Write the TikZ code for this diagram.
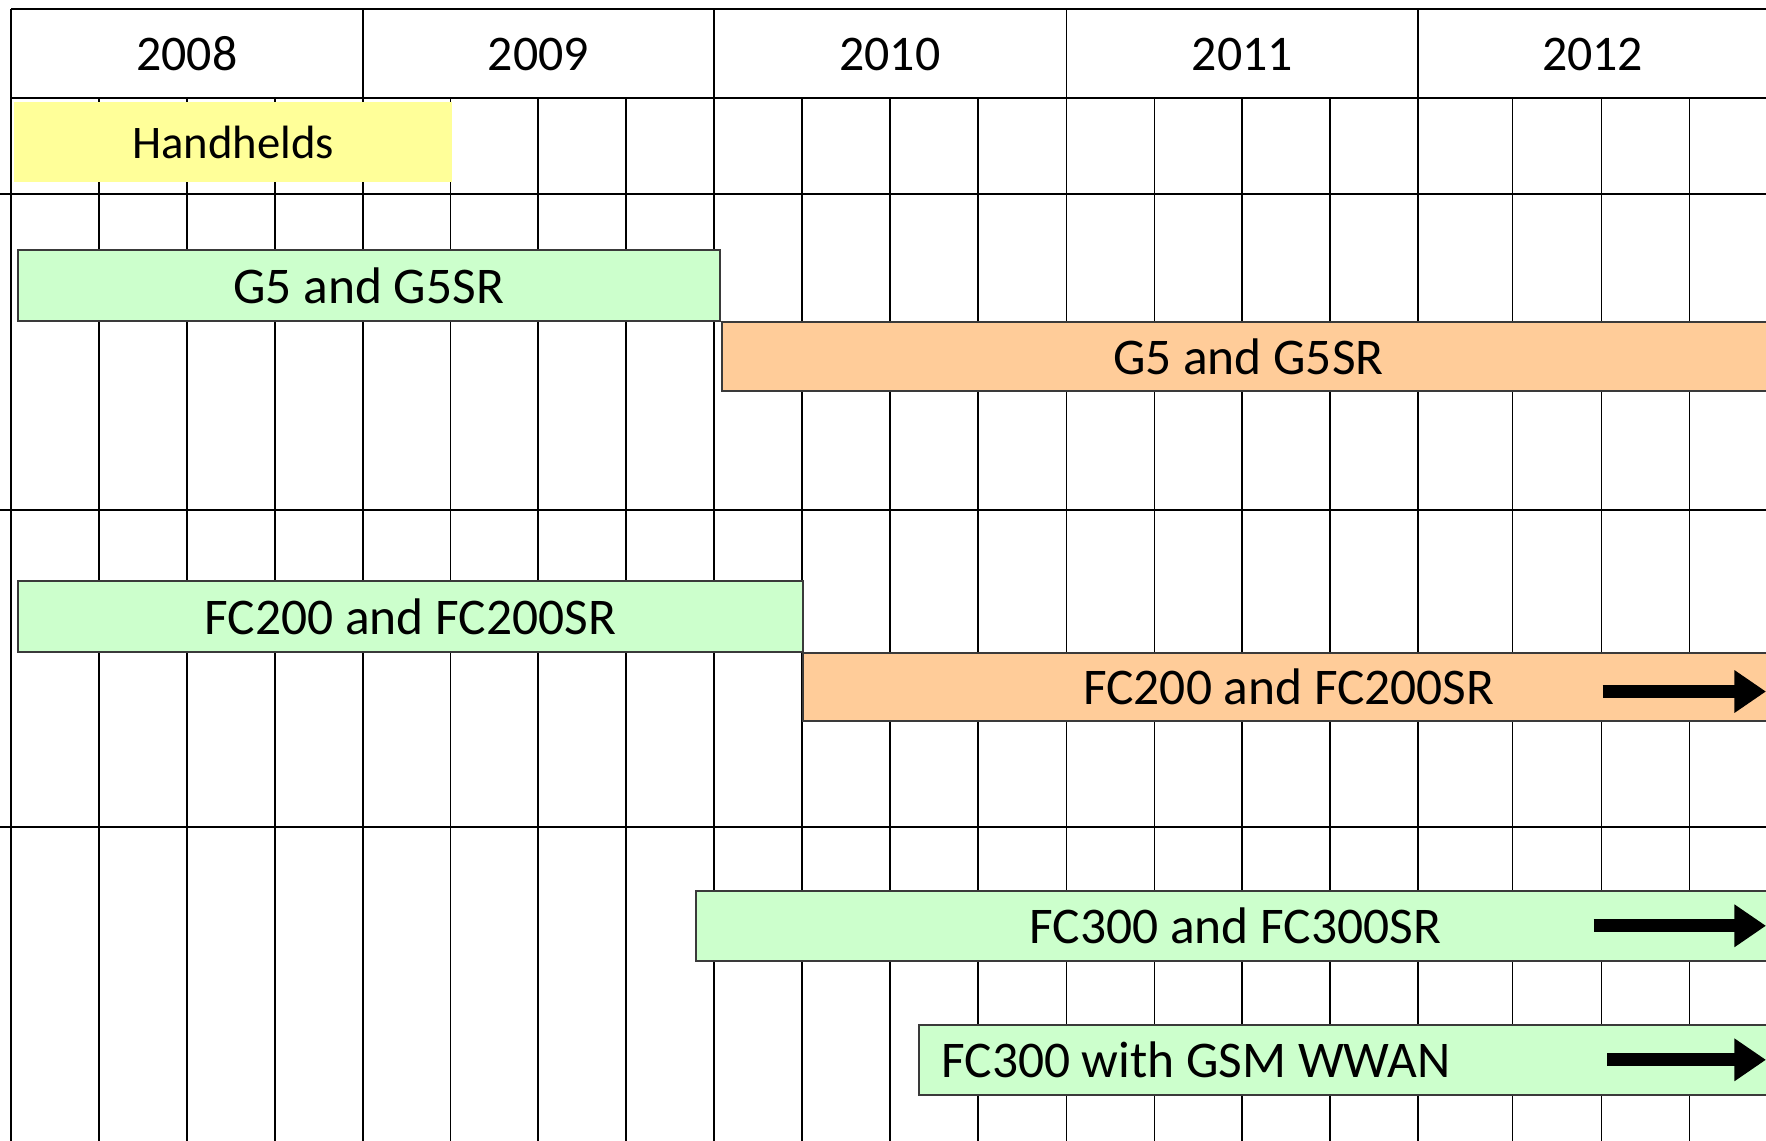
\documentclass[tikz,border=0pt]{standalone}
\usepackage{fontspec}
\setmainfont{Carlito}
\usetikzlibrary{arrows.meta}
\definecolor{barnew}{HTML}{CCFFCC}
\definecolor{barold}{HTML}{FFCC99}
\definecolor{barhand}{HTML}{FFFF99}
\definecolor{barline}{HTML}{3A3A3A}

\begin{document}
\begin{tikzpicture}[x=0.1mm, y=-0.1mm, every node/.style={font=\fontsize{13}{15}\selectfont},
    gridline/.style={line width=0.45pt, black},
    bar/.style={rectangle, draw=barline, line width=0.5pt, inner sep=0pt, anchor=west, minimum height=6.2mm},
    bigarrow/.style={line width=1.15mm, -{Triangle[length=2.8mm, width=3.6mm]}}]
            \useasboundingbox (0,0) rectangle (1568,1013);
            \clip (0,0) rectangle (1568,1013);

            % Grid
            \draw[gridline] (10,8) -- (1568,8);
            \draw[gridline] (10,87) -- (1568,87);
            \foreach \y in {172,453,734}
                \draw[gridline] (0,\y) -- (1568,\y);
            \draw[gridline] (10,8) -- (10,1013);
            \foreach \x in {322,634,947,1259}
                \draw[gridline] (\x,8) -- (\x,87);
            \foreach \x in {88,166,244,322,400,478,556,634,712,790,868,947,1025,1103,1181,1259,1343,1422,1500}
                \draw[gridline] (\x,87) -- (\x,1013);

            % Years
            \node[font=\fontsize{12.6}{15}\selectfont] (y2008) at (166,48) {2008};
            \node[font=\fontsize{12.6}{15}\selectfont] (y2009) at (478,48) {2009};
            \node[font=\fontsize{12.6}{15}\selectfont] (y2010) at (790,48) {2010};
            \node[font=\fontsize{12.6}{15}\selectfont] (y2011) at (1103,48) {2011};
            \node[font=\fontsize{12.6}{15}\selectfont] (y2012) at (1414,48) {2012};

            % Handhelds
            \node[rectangle, fill=barhand, anchor=north west, inner sep=0pt, minimum width=38.9mm, minimum height=7.1mm, font=\fontsize{11.8}{14}\selectfont] (hand) at (12,90) {Handhelds};

            % G5 row
            \node[bar, fill=barnew, minimum width=62.3mm, minimum height=6.3mm] (g5old) at (15,253.5) {G5 and G5SR};
            \node[bar, fill=barold, minimum width=93.5mm] (g5new) at (640,316.5) {G5 and G5SR};

            % FC200 row
            \node[bar, fill=barnew, minimum width=69.7mm, minimum height=6.3mm] (fc200old) at (15,547.5) {FC200 and FC200SR};
            \node[bar, fill=barold, minimum width=86.3mm, minimum height=6.0mm] (fc200new) at (712,610) {FC200 and FC200SR};

            % FC300 row
            \node[bar, fill=barnew, minimum width=95.8mm] (fc300) at (617,822) {FC300 and FC300SR};
            \node[bar, fill=barnew, inner xsep=2mm] (fc300gsm) at (815,941) {\hbox to 72mm{FC300 with GSM WWAN\hfil}};

            % Arrows running on
            \coordinate (fc200tail) at (1423,614);
            \coordinate (fc200tip) at (1568,614);
            \coordinate (fc300tail) at (1415,822);
            \coordinate (fc300tip) at (1568,822);
            \coordinate (gsmtail) at (1427,941);
            \coordinate (gsmtip) at (1568,941);
            \draw[bigarrow] (fc200tail) -- (fc200tip);
            \draw[bigarrow] (fc300tail) -- (fc300tip);
            \draw[bigarrow] (gsmtail) -- (gsmtip);
        \end{tikzpicture}
\end{document}
